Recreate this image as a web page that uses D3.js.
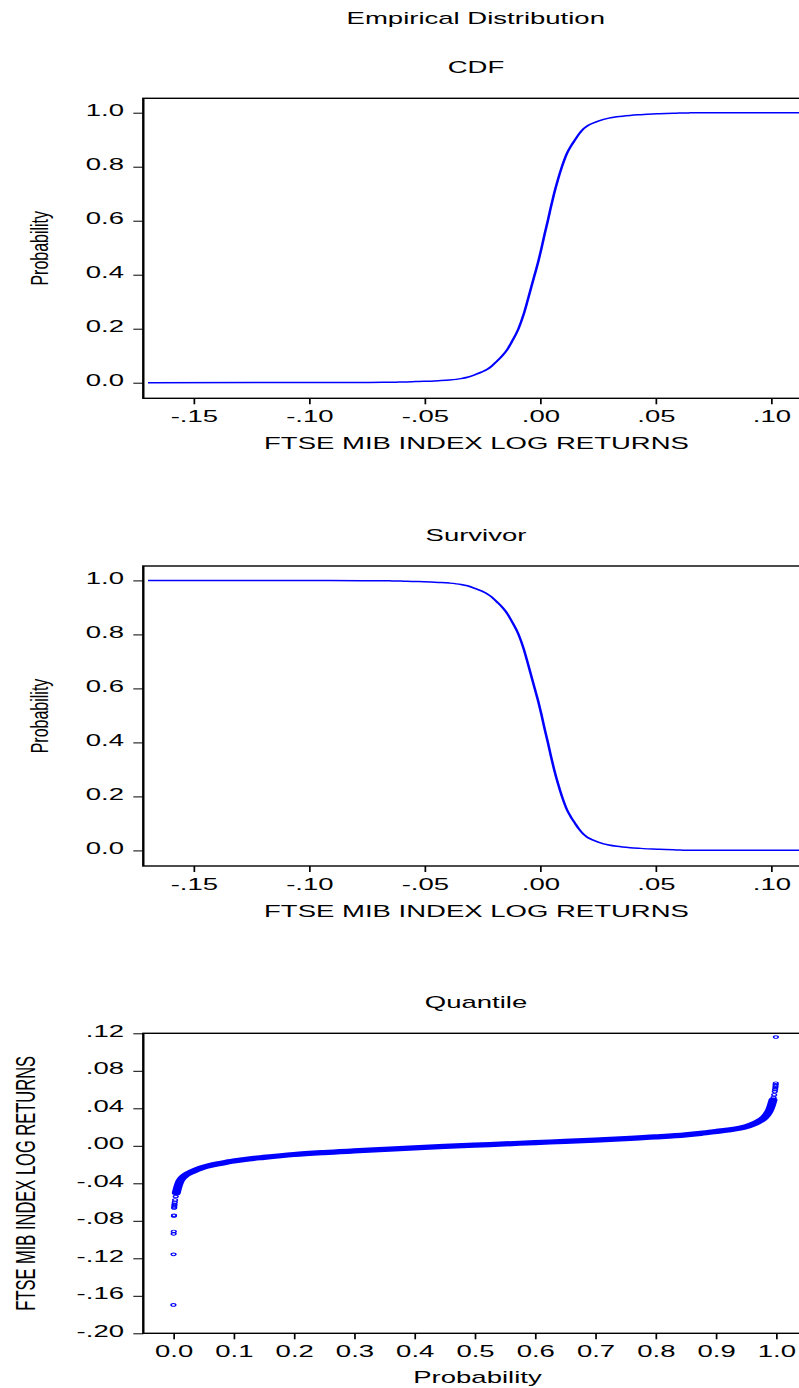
<!DOCTYPE html>
<html>
<head>
<meta charset="utf-8">
<script src="https://cdn.jsdelivr.net/npm/d3@7"></script>
<style>
  html, body { margin: 0; padding: 0; background: #fff; }
  svg { display: block; }
</style>
</head>
<body>
<svg id="chart" width="799" height="1388"></svg>
<script>
// Sorted FTSE MIB daily log returns and their cumulative probabilities
const probability = [
  0.0002, 0.0004, 0.0006, 0.0008, 0.0010, 0.0012, 0.0014, 0.0016, 0.0018, 0.0020,
  0.0025, 0.0030, 0.0040, 0.0050, 0.0075, 0.0100, 0.0150, 0.0200, 0.0300, 0.0400,
  0.0500, 0.0600, 0.0800, 0.1000, 0.1250, 0.1500, 0.2000, 0.2500, 0.3000, 0.3500,
  0.4000, 0.4500, 0.5000, 0.5500, 0.6000, 0.6500, 0.7000, 0.7500, 0.8000, 0.8500,
  0.8750, 0.9000, 0.9200, 0.9400, 0.9500, 0.9600, 0.9700, 0.9800, 0.9850, 0.9900,
  0.9925, 0.9950, 0.9960, 0.9970, 0.9980, 0.9985, 0.9990, 0.9992, 0.9994, 0.9996,
  0.9998
];
const logReturns = [
  -0.1697, -0.1158, -0.0939, -0.0914, -0.0748, -0.0741, -0.0664, -0.0652, -0.0638, -0.0624,
  -0.0602, -0.0578, -0.0540, -0.0502, -0.0440, -0.0392, -0.0342, -0.0314, -0.0280, -0.0251,
  -0.0228, -0.0211, -0.0186, -0.0163, -0.0140, -0.0123, -0.0093, -0.0072, -0.0055, -0.0039,
  -0.0023, -0.0007, 0.0007, 0.0020, 0.0034, 0.0047, 0.0061, 0.0077, 0.0095, 0.0117,
  0.0133, 0.0152, 0.0168, 0.0188, 0.0203, 0.0225, 0.0255, 0.0298, 0.0333, 0.0390,
  0.0435, 0.0488, 0.0515, 0.0545, 0.0578, 0.0600, 0.0620, 0.0636, 0.0650, 0.0667,
  0.1160
];

// Tick values
const probTicks = [0.0, 0.2, 0.4, 0.6, 0.8, 1.0];
const returnTicks = [-0.15, -0.10, -0.05, 0.00, 0.05, 0.10];
const quantileTicks = [-0.20, -0.16, -0.12, -0.08, -0.04, 0.00, 0.04, 0.08, 0.12];
const quantileProbTicks = [0.0, 0.1, 0.2, 0.3, 0.4, 0.5, 0.6, 0.7, 0.8, 0.9, 1.0];

// Text
const mainTitle = "Empirical Distribution";
const panelTitles = ["CDF", "Survivor", "Quantile"];
const returnLabel = "FTSE MIB INDEX LOG RETURNS";
const probLabel = "Probability";

// ---- layout ----
const SX = 1.72;                 // horizontal stretch of the whole drawing
const X = v => v / SX;           // screen px -> drawing units
const FONT = "'Liberation Sans', Arial, Helvetica, sans-serif";
const FRAME_L = 143.3, FRAME_R = 808.7, FRAME_H = 300;
const panelTops = [98.3, 566, 1033.3];
const BLUE = "#0000ff";

const svg = d3.select("#chart");
const root = svg.append("g").attr("transform", `scale(${SX},1)`);

const fmtProb = v => v.toFixed(1);
const fmtRet = v => (v < -1e-9 ? "-" : "") + Math.abs(v).toFixed(2).replace(/^0/, "");

function text(g, x, y, str, opts = {}) {
  return g.append("text")
    .attr("x", X(x)).attr("y", y)
    .attr("text-anchor", opts.anchor || "middle")
    .attr("font-family", FONT)
    .attr("font-size", opts.size || 16)
    .attr("fill", "#000")
    .text(str);
}

function yLabel(g, cx, cy, str, size, squeeze) {
  g.append("text")
    .attr("transform", `translate(${X(cx)},${cy}) rotate(-90) scale(1,${squeeze})`)
    .attr("text-anchor", "middle")
    .attr("font-family", FONT)
    .attr("font-size", size)
    .attr("fill", "#000")
    .text(str);
}

function frame(g, top) {
  g.append("rect")
    .attr("x", X(FRAME_L)).attr("y", top)
    .attr("width", X(FRAME_R - FRAME_L)).attr("height", FRAME_H)
    .attr("fill", "none").attr("stroke", "#000").attr("stroke-width", 1.4);
}

function leftAxis(g, scale, ticks, fmt) {
  const ax = d3.axisLeft(scale).tickValues(ticks).tickFormat(fmt)
    .tickSize(X(10)).tickSizeOuter(0);
  const a = g.append("g").attr("transform", `translate(${X(FRAME_L)},0)`).call(ax);
  a.select(".domain").remove();
  a.attr("font-family", FONT).attr("font-size", 16);
  a.selectAll(".tick line").attr("stroke", "#000").attr("stroke-width", 1);
  a.selectAll(".tick text")
    .attr("x", X(124 - FRAME_L)).attr("dy", "0.17em")
    .attr("fill", "#000").attr("text-anchor", "end");
}

function bottomAxis(g, scale, ticks, fmt, bottom) {
  const ax = d3.axisBottom(scale).tickValues(ticks).tickFormat(fmt)
    .tickSize(6).tickSizeOuter(0);
  const a = g.append("g").attr("transform", `translate(0,${bottom})`).call(ax);
  a.select(".domain").remove();
  a.attr("font-family", FONT).attr("font-size", 16);
  a.selectAll(".tick line").attr("stroke", "#000").attr("stroke-width", 1);
  a.selectAll(".tick text").attr("y", 24).attr("dy", null).attr("fill", "#000");
}

// ---- main title ----
text(root, 475.8, 24, mainTitle);

const points = probability.map((p, i) => ({ p, r: logReturns[i] }));
const xRet = d3.scaleLinear().domain([0, 0.1]).range([X(540), X(771)]);

// ---- CDF and Survivor panels ----
[0, 1].forEach(k => {
  const top = panelTops[k], bottom = top + FRAME_H;
  const g = root.append("g");
  const y = d3.scaleLinear().domain([0, 1]).range([top + 284.4, top + 14.4]);

  text(g, 476, top - 25, panelTitles[k]);

  const line = d3.line()
    .x(d => xRet(d.r))
    .y(d => y(k === 0 ? d.p : 1 - d.p))
    .curve(d3.curveMonotoneX);
  g.append("path").datum(points)
    .attr("d", line)
    .attr("fill", "none").attr("stroke", BLUE).attr("stroke-width", 1.5);

  frame(g, top);
  leftAxis(g, y, probTicks, fmtProb);
  bottomAxis(g, xRet, returnTicks, fmtRet, bottom);
  text(g, 476.5, bottom + 51, returnLabel);
  yLabel(g, 48.3, top + FRAME_H / 2, probLabel, 16, 0.85);
});

// ---- Quantile panel ----
{
  const top = panelTops[2], bottom = top + FRAME_H;
  const g = root.append("g");
  const xp = d3.scaleLinear().domain([0, 1]).range([X(173.3), X(776)]);
  const yq = d3.scaleLinear().domain([-0.20, 0.12]).range([bottom, top]);

  text(g, 476, top - 25, panelTitles[2]);

  // dense body of the quantile points
  const body = points.filter(d => d.p >= 0.005 && d.p <= 0.995);
  g.append("path").datum(body)
    .attr("d", d3.line().x(d => xp(d.p)).y(d => yq(d.r)).curve(d3.curveMonotoneX))
    .attr("fill", "none").attr("stroke", BLUE)
    .attr("stroke-width", 5.2).attr("stroke-linecap", "round");

  g.selectAll("circle.q").data(points).join("circle")
    .attr("class", "q")
    .attr("cx", d => xp(d.p)).attr("cy", d => yq(d.r))
    .attr("r", 1.35)
    .attr("fill", "none").attr("stroke", BLUE).attr("stroke-width", 0.9);

  frame(g, top);
  leftAxis(g, yq, quantileTicks, fmtRet);
  bottomAxis(g, xp, quantileProbTicks, fmtProb, bottom);
  text(g, 477.5, bottom + 49.4, probLabel);
  yLabel(g, 35, top + FRAME_H / 2, returnLabel, 16.5, 1);
}
</script>
</body>
</html>
